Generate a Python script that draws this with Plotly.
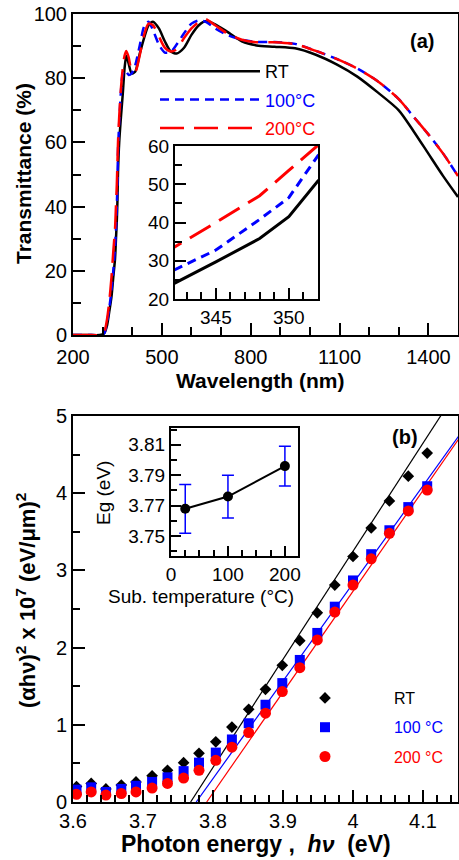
import numpy as np
import plotly.graph_objects as go

W, H = 459, 860
FONT = "Liberation Sans, Arial, sans-serif"

# ---- (a) transmittance spectra ----
wl = [200, 250, 290, 305, 315, 322, 330, 336, 342, 345, 348, 350, 352, 356, 362,
      368, 374, 380, 388, 398, 410, 425, 440, 455, 470, 490, 510, 530, 550, 575,
      600, 625, 650, 680, 720, 770, 820, 880, 950, 1020, 1090, 1160, 1230, 1300,
      1350, 1400, 1450, 1500]
t_rt = [0, 0, 0, 0.5, 3, 7, 12, 18, 23.8, 29.7, 35.8, 41.5, 50.9, 60, 68,
        75, 83, 87, 84.5, 81.5, 82, 87.5, 92.5, 96.5, 97.6, 95.5, 91.5, 88.3, 87.7, 89.5,
        93.5, 96.5, 97.8, 96.8, 94.5, 91.5, 90.2, 89.8, 89.3, 87.3, 84.3, 80.5, 75.5, 70,
        63.5, 56.5, 49.5, 43]
t_100 = [0, 0, 0, 0.5, 4, 8, 14, 20, 27.3, 32.8, 40.8, 46.5, 57.5, 66, 76,
         81.5, 82.5, 82, 81, 81.5, 84, 90, 96, 97.6, 95, 90.5, 88, 88.2, 90.5, 94,
         97, 98, 97.5, 95.5, 93.5, 92, 91.3, 91.3, 90.7, 88.5, 86, 83, 79, 73.5,
         68, 62.5, 56.5, 49.5]
t_200 = [0, 0, 0, 0.8, 5, 10, 18, 26, 33.2, 40, 47, 53.6, 60.2, 68, 77,
         83, 87, 88.5, 86.5, 82.5, 82, 87, 93.5, 97, 96.5, 93, 89.5, 88.3, 89, 92.5,
         95.5, 97.5, 98.3, 96.5, 94, 92, 91.2, 91.2, 90.6, 88.5, 86, 83, 79, 73.5,
         68, 62.5, 56.5, 49.5]

# ---- (b) Tauc plot ----
energy = [3.605, 3.626, 3.647, 3.669, 3.690, 3.713, 3.735, 3.758, 3.780, 3.804, 3.827,
          3.851, 3.875, 3.899, 3.924, 3.949, 3.974, 4.000, 4.026, 4.052, 4.079, 4.106]
ah_rt = [0.20, 0.24, 0.17, 0.22, 0.26, 0.34, 0.41, 0.51, 0.63, 0.78, 0.97,
         1.20, 1.46, 1.77, 2.09, 2.45, 2.81, 3.18, 3.55, 3.90, 4.22, 4.52]
ah_100 = [0.16, 0.19, 0.13, 0.17, 0.21, 0.26, 0.32, 0.40, 0.51, 0.64, 0.81,
          1.02, 1.26, 1.54, 1.84, 2.19, 2.53, 2.87, 3.21, 3.52, 3.82, 4.09]
ah_200 = [0.10, 0.13, 0.09, 0.11, 0.13, 0.18, 0.24, 0.31, 0.41, 0.54, 0.71,
          0.90, 1.15, 1.43, 1.74, 2.10, 2.46, 2.81, 3.15, 3.48, 3.77, 4.04]
eg_fit = [3.768, 3.776, 3.791]
slope_fit = [14.0, 12.64, 13.06]

# inset (b)
sub_temp = [25, 100, 200]
eg = [3.768, 3.776, 3.796]
eg_err = [0.016, 0.014, 0.013]

names = ["RT", "100°C", "200°C"]
colors = ["black", "blue", "red"]
dashes = ["solid", "9px,6px", "24px,10px"]

fig = go.Figure()

for i, t in enumerate([t_rt, t_100, t_200]):
    fig.add_trace(go.Scatter(
        x=wl, y=t, mode="lines", xaxis="x", yaxis="y",
        line=dict(color=colors[i], width=2.5, dash=dashes[i], shape="spline", smoothing=0.7),
        name='<span style="color:%s">%s</span>' % (colors[i], names[i]),
        legend="legend", legendgroup="a%d" % i))
    fig.add_trace(go.Scatter(
        x=wl, y=t, mode="lines", xaxis="x2", yaxis="y2", showlegend=False,
        line=dict(color=colors[i], width=3, dash=dashes[i])))

symbols = ["diamond", "square", "circle"]
sizes = [9, 10, 11]
pad = "\u00a0" * 11
bnames = ["RT", "100 °C", "200 °C"]
for i, y in enumerate([ah_rt, ah_100, ah_200]):
    xf = np.array([eg_fit[i], 4.2])
    fig.add_trace(go.Scatter(
        x=xf, y=slope_fit[i] * (xf - eg_fit[i]), mode="lines", xaxis="x3", yaxis="y3",
        showlegend=False, line=dict(color=colors[i], width=1.2)))
for i, y in enumerate([ah_rt, ah_100, ah_200]):
    fig.add_trace(go.Scatter(
        x=energy, y=y, mode="markers", xaxis="x3", yaxis="y3",
        marker=dict(symbol=symbols[i], size=sizes[i], color=colors[i]),
        name='%s<span style="color:%s">%s</span>' % (pad, colors[i], bnames[i]),
        legend="legend2", legendgroup="b%d" % i))

fig.add_trace(go.Scatter(
    x=sub_temp, y=eg, mode="lines+markers", xaxis="x4", yaxis="y4", showlegend=False,
    line=dict(color="black", width=2), marker=dict(color="black", size=10),
    error_y=dict(type="data", array=eg_err, color="blue", thickness=1.5, width=6)))


def ax(**kw):
    d = dict(showline=True, linecolor="black", linewidth=2, mirror=True,
             ticks="inside", tickcolor="black", tickwidth=2, ticklen=12,
             showgrid=False, zeroline=False, automargin=False,
             tickfont=dict(size=20, color="black", family=FONT))
    d.update(kw)
    return d


def mn(dtick, ln=7, tick0=None):
    d = dict(ticks="inside", ticklen=ln, tickwidth=2, tickcolor="black", dtick=dtick,
             showgrid=False)
    if tick0 is not None:
        d["tick0"] = tick0
    return d


def px(x):
    return x / W


def py(y):
    return 1 - y / H


small = dict(size=19, color="black", family=FONT)

fig.update_layout(
    width=W, height=H, margin=dict(l=0, r=0, t=0, b=0, pad=0, autoexpand=False),
    paper_bgcolor="white", plot_bgcolor="white",
    font=dict(family=FONT, color="black"),
    xaxis=ax(domain=[px(73), px(458)], range=[200, 1500], tick0=200, dtick=300,
             minor=mn(100, 8), anchor="y", ticklabelstandoff=3),
    yaxis=ax(domain=[py(335), py(14)], range=[0, 100], dtick=20, minor=mn(10, 8),
             anchor="x"),
    xaxis2=ax(domain=[px(175), px(318)], range=[342.2, 352], tick0=345, dtick=5,
              minor=mn(1, 7), anchor="y2", ticklen=11, tickfont=small),
    yaxis2=ax(domain=[py(299), py(146)], range=[20, 60], dtick=10, minor=mn(5, 7),
              anchor="x2", ticklen=11, tickfont=small),
    xaxis3=ax(domain=[px(73), px(458)], range=[3.6, 4.15], dtick=0.1, tick0=3.6,
              minor=mn(0.02, 7, 3.6), anchor="y3"),
    yaxis3=ax(domain=[py(802), py(416)], range=[0, 5], dtick=1, minor=mn(0.5, 7),
              anchor="x3"),
    xaxis4=ax(domain=[px(171), px(298)], range=[0, 223], dtick=100, minor=mn(25, 6),
              anchor="y4", ticklen=10, tickfont=small),
    yaxis4=ax(domain=[py(556), py(428)], range=[3.737, 3.821], tick0=3.75, dtick=0.02,
              minor=mn(0.01, 6, 3.75), anchor="x4", ticklen=10, tickfont=small,
              tickformat=".2f"),
    legend=dict(x=px(155), y=py(53), xanchor="left", yanchor="top",
                bgcolor="rgba(0,0,0,0)", itemwidth=100, tracegroupgap=2,
                traceorder="grouped", font=dict(size=18, family=FONT)),
    legend2=dict(x=px(305), y=py(681), xanchor="left", yanchor="top",
                 bgcolor="rgba(0,0,0,0)", itemwidth=30, tracegroupgap=5.5,
                 traceorder="grouped", font=dict(size=16, family=FONT)),
    showlegend=True,
)

ta = dict(size=21, color="black", family=FONT)
tb = dict(size=23, color="black", family=FONT)
ann = [
    ("<b>Transmittance (%)</b>", 23, 174, -90, ta),
    ("<b>Wavelength (nm)</b>", 260, 380, 0, ta),
    ("<b>(αhν)<sup>2</sup> x 10<sup>7</sup> (eV/μm)<sup>2</sup></b>", 26, 601, -90, dict(tb, size=22)),
    ("<b>Photon energy\u00a0, \u00a0<i>hν</i>\u00a0 (eV)</b>", 256, 844, 0, tb),
    ("Eg (eV)", 103, 493, -90, small),
    ("Sub. temperature (°C)", 201, 596, 0, small),
    ("<b>(a)</b>", 422, 41, 0, dict(size=20, color="black", family=FONT)),
    ("<b>(b)</b>", 405, 437, 0, dict(size=20, color="black", family=FONT)),
]
for text, x, y, ang, f in ann:
    fig.add_annotation(text=text, x=px(x), y=py(y), xref="paper", yref="paper",
                       xanchor="center", yanchor="middle", showarrow=False,
                       textangle=ang, font=f)

fig.write_html("out.html", config={"displayModeBar": False},
               post_script="document.body.style.margin='0';")
